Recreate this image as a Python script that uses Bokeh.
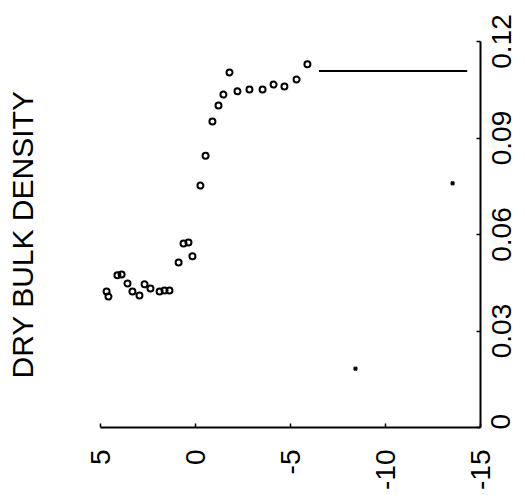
import math
from bokeh.plotting import figure
from bokeh.layouts import row, column
from bokeh.models import Range1d, FixedTicker, LinearAxis
from bokeh.embed import file_html
from bokeh.resources import INLINE

# depth (horizontal axis) and dry bulk density (vertical axis)
depth = [4.68, 4.58, 4.11, 3.89, 3.58, 3.32, 2.95, 2.68, 2.37, 1.89, 1.63, 1.37,
         0.89, 0.63, 0.37, 0.16, -0.26, -0.53, -0.89, -1.21, -1.47, -1.79,
         -2.21, -2.84, -3.53, -4.11, -4.68, -5.32, -5.89]
density = [0.0423, 0.0407, 0.0473, 0.0476, 0.0448, 0.0423, 0.0410, 0.0445, 0.0432,
           0.0423, 0.0426, 0.0426, 0.0513, 0.0572, 0.0575, 0.0532, 0.0752, 0.0845,
           0.0951, 0.1001, 0.1035, 0.1104, 0.1045, 0.1051, 0.1051, 0.1066, 0.1060,
           0.1082, 0.1129]

# horizontal level line
level_x = [-6.5, -14.3]
level_y = [0.1108, 0.1108]

# stray specks
speck_x = [-13.53, -8.42]
speck_y = [0.0759, 0.0183]

x_ticks = [5, 0, -5, -10, -15]
x_labels = ["5", "0", "-5", "-10", "-15"]
y_ticks = [0, 0.03, 0.06, 0.09, 0.12]
y_labels = ["0", "0.03", "0.06", "0.09", "0.12"]
title_text = "DRY BULK DENSITY"

FONT = "Liberation Sans"
X_MIN, X_MAX = 5, -15
Y_MIN, Y_MAX = 0, 0.12

TOP, BOT = 41, 2
H_MAIN = TOP + 386 + BOT

x_range = Range1d(X_MIN, X_MAX)
y_range = Range1d(Y_MIN, Y_MAX)


def clean(fig):
    fig.outline_line_color = None
    fig.grid.visible = False
    fig.background_fill_color = "white"
    fig.border_fill_color = "white"


# ---------------- main plot ----------------
p = figure(width=483, height=H_MAIN, output_backend="svg", toolbar_location=None,
           x_range=x_range, y_range=y_range, y_axis_location="right",
           min_border_left=100, min_border_right=3, min_border_top=TOP,
           min_border_bottom=BOT)
clean(p)

# bottom axis line and ticks (labels are shown by the strip below)
xa = p.xaxis[0]
xa.ticker = FixedTicker(ticks=x_ticks)
xa.major_label_overrides = {t: "" for t in x_ticks}
xa.major_label_orientation = math.pi / 2
xa.major_label_standoff = 0
xa.axis_line_width = 2
xa.axis_line_color = "black"
xa.major_tick_in = 4
xa.major_tick_out = 0
xa.major_tick_line_width = 1.5
xa.minor_tick_line_color = None

# right axis line and ticks (labels are shown by the strip beside it)
ya = p.yaxis[0]
ya.ticker = FixedTicker(ticks=y_ticks)
ya.major_label_overrides = {t: "" for t in y_ticks}
ya.major_label_standoff = 0
ya.axis_line_width = 2
ya.axis_line_color = "black"
ya.major_tick_in = 4
ya.major_tick_out = 0
ya.major_tick_line_width = 1.5
ya.minor_tick_line_color = None

# left axis carrying only the title text
la = LinearAxis(axis_label=title_text, ticker=FixedTicker(ticks=[]),
                axis_line_color=None, major_tick_line_color=None,
                minor_tick_line_color=None,
                axis_label_text_font=FONT, axis_label_text_font_size="30px",
                axis_label_text_font_style="normal", axis_label_text_color="black",
                axis_label_standoff=62)
p.add_layout(la, "left")

p.scatter(depth, density, marker="circle", size=6, line_color="black",
          line_width=2, fill_color=None)
p.line(level_x, level_y, line_color="black", line_width=2)
p.scatter(speck_x, speck_y, marker="square", size=3, line_color="black",
          fill_color="black")

# ---------------- strip with the rotated density labels ----------------
p2 = figure(width=34, height=H_MAIN, output_backend="svg", toolbar_location=None,
            x_range=Range1d(0, 1), y_range=y_range,
            x_axis_location=None, y_axis_location="left",
            min_border_left=33, min_border_right=0, min_border_top=TOP,
            min_border_bottom=BOT)
clean(p2)
ya2 = p2.yaxis[0]
ya2.ticker = FixedTicker(ticks=y_ticks)
ya2.major_label_overrides = {t: l for t, l in zip(y_ticks, y_labels)}
ya2.major_label_orientation = "parallel"
ya2.major_label_standoff = 0
ya2.major_label_text_font = FONT
ya2.major_label_text_font_size = "28px"
ya2.major_label_text_color = "black"
ya2.axis_line_color = None
ya2.major_tick_line_color = None
ya2.minor_tick_line_color = None

# ---------------- strip with the rotated depth labels ----------------
p3 = figure(width=517, height=58, output_backend="svg", toolbar_location=None,
            x_range=x_range, y_range=Range1d(0, 1),
            y_axis_location=None,
            min_border_left=100, min_border_right=37, min_border_top=1,
            min_border_bottom=55)
clean(p3)
xa3 = p3.xaxis[0]
xa3.ticker = FixedTicker(ticks=x_ticks)
xa3.major_label_overrides = {t: l for t, l in zip(x_ticks, x_labels)}
xa3.major_label_orientation = math.pi / 2
xa3.major_label_standoff = 13
xa3.major_label_text_font = FONT
xa3.major_label_text_font_size = "28px"
xa3.major_label_text_color = "black"
xa3.axis_line_color = None
xa3.major_tick_line_color = None
xa3.minor_tick_line_color = None

layout = column(row(p, p2, spacing=0), p3, spacing=0)
open("out.html", "w").write(file_html(layout, INLINE))
